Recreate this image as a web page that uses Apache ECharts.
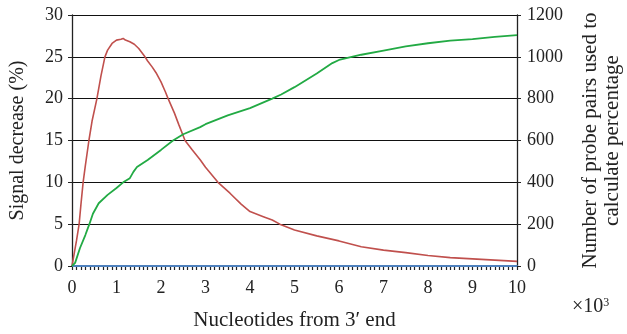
<!DOCTYPE html>
<html>
<head>
<meta charset="utf-8">
<script src="https://cdn.jsdelivr.net/npm/echarts@6/dist/echarts.min.js"></script>
<style>html,body{margin:0;padding:0;background:#fff}#c{width:627px;height:334px}</style>
</head>
<body>
<div id="c"></div>
<script>
// x in thousands of nucleotides from 3' end
var redX = [0,0.05,0.1,0.16,0.2,0.25,0.3,0.38,0.45,0.56,0.65,0.74,0.8,0.9,1.0,1.1,1.15,1.2,1.3,1.4,1.5,1.64,1.7,1.8,1.9,2.0,2.1,2.16,2.3,2.4,2.54,2.7,2.88,3.0,3.28,3.55,3.8,4.0,4.3,4.5,4.67,5.0,5.5,6.0,6.5,7.0,7.5,8.0,8.5,9.0,9.5,10];
var redY = [0,1.5,3,5,7.3,10,12,15,17.3,20,22.7,25,25.8,26.6,27.0,27.1,27.2,27.0,26.8,26.5,26.0,25.0,24.5,23.8,23.0,22.0,20.8,20.0,18.3,16.9,15.0,13.9,12.7,11.8,10.0,8.7,7.4,6.5,5.9,5.5,5.0,4.3,3.6,3.0,2.3,1.9,1.6,1.25,1.0,0.85,0.7,0.55];
var greenX = [0,0.07,0.18,0.3,0.39,0.47,0.6,0.8,1.0,1.15,1.3,1.38,1.46,1.7,2.0,2.27,2.5,2.88,3.0,3.5,4.0,4.5,4.7,5.0,5.5,5.85,6.0,6.5,7.0,7.5,8.0,8.5,9.0,9.5,10];
var greenY = [0,15,86,148,200,250,300,340,373,400,420,450,473,507,555,600,630,664,678,720,755,800,820,855,920,970,985,1010,1030,1050,1065,1077,1085,1095,1104];
var blueX = [0,10];
var blueY = [0,0];
var leftTicks = [0,5,10,15,20,25,30];
var rightTicks = [0,200,400,600,800,1000,1200];
var xTicks = [0,1,2,3,4,5,6,7,8,9,10];

function pairs(xs, ys){ return xs.map(function(x,i){return [x, ys[i]];}); }
var F = 'Liberation Serif, Times New Roman, serif';
var chart = echarts.init(document.getElementById('c'));
chart.setOption({
  animation:false,
  grid:{left:72,right:110,top:15,bottom:68,outerBoundsMode:'none',containLabel:false},
  xAxis:{type:'value',min:xTicks[0],max:xTicks[xTicks.length-1],interval:1,
    name:'Nucleotides from 3\u2032 end',nameLocation:'middle',nameGap:44,
    nameTextStyle:{fontFamily:F,fontSize:21,color:'#222'},
    axisLine:{show:true,lineStyle:{color:'#4f81bd',width:2}},
    axisTick:{show:true,length:4,lineStyle:{color:'#222',width:1.2}},
    minorTick:{show:true,splitNumber:10,length:4,lineStyle:{color:'#222',width:1.2}},
    axisLabel:{fontFamily:F,fontSize:18,color:'#222',margin:13},
    splitLine:{show:false}},
  yAxis:[
    {type:'value',min:leftTicks[0],max:leftTicks[leftTicks.length-1],interval:5,position:'left',
     name:'Signal decrease (%)',nameLocation:'middle',nameGap:44,nameRotate:90,
     nameTextStyle:{fontFamily:F,fontSize:20,color:'#222'},
     axisLine:{show:true,lineStyle:{color:'#222',width:1.3}},
     axisTick:{show:true,length:4,lineStyle:{color:'#222'}},
     axisLabel:{fontFamily:F,fontSize:18,color:'#222',margin:9},
     splitLine:{show:true,lineStyle:{color:'#111',width:1.2}}},
    {type:'value',min:rightTicks[0],max:rightTicks[rightTicks.length-1],interval:200,position:'right',
     name:'Number of probe pairs used to\ncalculate percentage',nameLocation:'middle',nameGap:62,nameRotate:90,
     nameTextStyle:{fontFamily:F,fontSize:21,color:'#222',lineHeight:22,align:'center'},
     axisLine:{show:true,lineStyle:{color:'#222',width:1.3}},
     axisTick:{show:true,length:4,lineStyle:{color:'#222'}},
     axisLabel:{fontFamily:F,fontSize:18,color:'#222',margin:10,formatter:function(v){return String(v);}},
     splitLine:{show:false}}
  ],
  graphic:[{type:'text',left:572,top:297,style:{text:'\u00d710{s|3}',rich:{s:{fontSize:12,fontFamily:F,fill:'#222',verticalAlign:'top',padding:[0,0,8,0]}},font:'20px '+F,fill:'#222'}}],
  series:[
    {type:'line',yAxisIndex:0,data:pairs(blueX,blueY),symbol:'none',lineStyle:{color:'#4f81bd',width:2},z:3},
    {type:'line',yAxisIndex:0,data:pairs(redX,redY),symbol:'none',lineStyle:{color:'#c0504d',width:1.6},z:4},
    {type:'line',yAxisIndex:1,data:pairs(greenX,greenY),symbol:'none',lineStyle:{color:'#22aa44',width:1.8},z:5}
  ]
});
</script>
</body>
</html>
